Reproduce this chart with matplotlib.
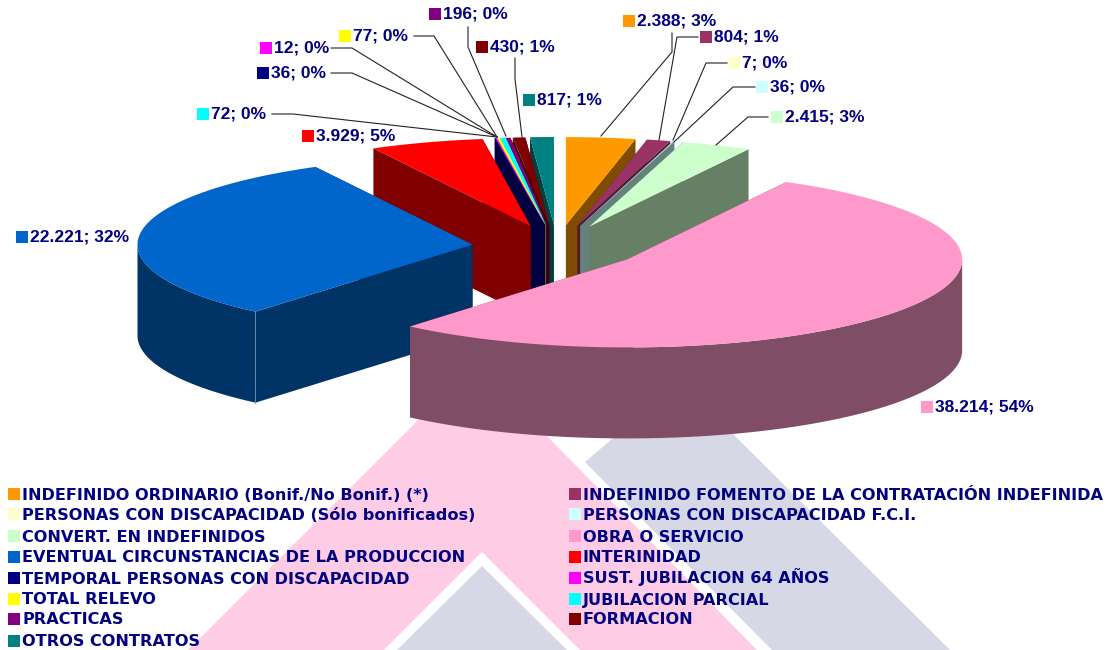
import numpy as np
import matplotlib
matplotlib.use('Agg')
import matplotlib.pyplot as plt
from matplotlib.patches import Polygon, Rectangle

plt.rcParams['font.family'] = ['Liberation Sans', 'DejaVu Sans']
plt.rcParams['font.weight'] = 'bold'

# datos
categorias = ['INDEFINIDO ORDINARIO (Bonif./No Bonif.) (*)',
              'INDEFINIDO FOMENTO DE LA CONTRATACIÓN INDEFINIDA',
              'PERSONAS CON DISCAPACIDAD (Sólo bonificados)',
              'PERSONAS CON DISCAPACIDAD F.C.I.',
              'CONVERT. EN INDEFINIDOS',
              'OBRA O SERVICIO',
              'EVENTUAL CIRCUNSTANCIAS DE LA PRODUCCION',
              'INTERINIDAD',
              'TEMPORAL PERSONAS CON DISCAPACIDAD',
              'SUST. JUBILACION 64 AÑOS',
              'TOTAL RELEVO',
              'JUBILACION PARCIAL',
              'PRACTICAS',
              'FORMACION',
              'OTROS CONTRATOS']
valores = [2388, 804, 7, 36, 2415, 38214, 22221, 3929, 36, 12, 77, 72, 196, 430, 817]
etiquetas = ['2.388; 3%', '804; 1%', '7; 0%', '36; 0%', '2.415; 3%', '38.214; 54%',
             '22.221; 32%', '3.929; 5%', '36; 0%', '12; 0%', '77; 0%', '72; 0%',
             '196; 0%', '430; 1%', '817; 1%']
colores = ['#FF9900', '#993366', '#FFFFCC', '#CCFFFF', '#CCFFCC', '#FF99CC', '#0066CC', '#FF0000',
           '#000080', '#FF00FF', '#FFFF00', '#00FFFF', '#800080', '#800000', '#008080']

# posicion del texto de cada etiqueta (pixeles)
pos_etiquetas = [(637, 21), (714, 37), (742, 63), (770, 87), (785, 117), (935, 407),
                 (30, 237), (316, 136), (271, 73), (274, 48), (353, 36), (211, 114),
                 (443, 14), (490, 47), (537, 100)]
# lineas guia: indice de la porcion -> puntos
guias = {0: [(672, 33), (672, 52), (601, 136)],
         1: [(698, 37), (677, 37), (659, 140)],
         2: [(727, 63), (706, 63), (673, 140)],
         3: [(755, 87), (733, 87), (674, 142)],
         4: [(768, 117), (748, 117), (716, 145)],
         8: [(331, 73), (352, 73), (497, 137)],
         9: [(331, 48), (352, 48), (497, 137)],
         10: [(414, 36), (434, 36), (497, 137)],
         11: [(272, 114), (293, 114), (497, 137)],
         12: [(468, 27), (468, 47), (506, 136)],
         13: [(515, 58), (515, 79), (522, 137)]}
# filas y columnas de la leyenda (pixeles)
filas_y = [494, 514, 536, 557, 578, 599, 619, 641]
cols_x = [8, 569]

# geometria de la torta
cx, cy = 557, 247
rx, ry = 335, 88
expl_x, expl_y = 85, 22
prof = 91
# orden de dibujo del grafico original
orden = [14, 13, 12, 11, 10, 9, 8, 7, 0, 1, 2, 3, 4, 6, 5]
# porciones diminutas de atras: el original las dibuja con un ancho minimo
delgadas = [8, 9, 10, 11]
ancho_min = np.radians(1.0)

fig = plt.figure(figsize=(11.15, 6.5), dpi=100)
ax = fig.add_axes([0, 0, 1, 1])
ax.set_xlim(0, 1115)
ax.set_ylim(650, 0)
ax.axis('off')

# logo de fondo
rosa = '#FFCCE6'
gris = '#D6D8E6'
ax.add_patch(Polygon([(420, 418), (188, 650), (384, 650), (482, 552), (580, 650), (757, 650), (544, 433)],
                     fc=rosa, ec='none', zorder=0))
ax.add_patch(Polygon([(482, 566), (397, 650), (567, 650)], fc=gris, ec='none', zorder=0))
ax.add_patch(Polygon([(585, 462), (772, 650), (950, 650), (732, 433), (619, 433)], fc=gris, ec='none', zorder=0))


def oscurecer(color):
    return tuple(c * 0.5 for c in matplotlib.colors.to_rgb(color))


total = sum(valores)
ang = np.cumsum([0] + valores) / total * 2 * np.pi
medios = (ang[:-1] + ang[1:]) / 2
apex_x = cx + expl_x * np.sin(medios)
apex_y = cy - expl_y * np.cos(medios)


def borde(i):
    a0, a1 = ang[i], ang[i + 1]
    if i in delgadas:
        a0, a1 = medios[i] - ancho_min / 2, medios[i] + ancho_min / 2
    t = np.linspace(a0, a1, 200)
    return t, apex_x[i] + rx * np.sin(t), apex_y[i] - ry * np.cos(t)


def cara_superior(i, z):
    t, xs, ys = borde(i)
    ax.add_patch(Polygon(np.c_[np.r_[apex_x[i], xs], np.r_[apex_y[i], ys]],
                         fc=colores[i], ec='none', zorder=z))


for z, i in enumerate(orden):
    t, xs, ys = borde(i)
    ax0, ay0 = apex_x[i], apex_y[i]
    oscuro = oscurecer(colores[i])
    # paredes radiales
    for xb, yb in [(xs[0], ys[0]), (xs[-1], ys[-1])]:
        ax.add_patch(Polygon([(ax0, ay0), (xb, yb), (xb, yb + prof), (ax0, ay0 + prof)],
                             fc=oscuro, ec='none', zorder=2 + z))
    # pared curva, solo la parte de adelante
    delante = np.cos(t) <= 0
    if delante.sum() > 1:
        fx, fy = xs[delante], ys[delante]
        ax.add_patch(Polygon(np.r_[np.c_[fx, fy], np.c_[fx[::-1], fy[::-1] + prof]],
                             fc=oscuro, ec='none', zorder=2 + z))
    cara_superior(i, 2 + z)
    # arista clara en la esquina de la porcion azul
    if i == 6:
        ax.plot([xs[0], xs[0]], [ys[0], ys[0] + prof], color='#6F8CAB', lw=0.6, zorder=2 + z)

# las diminutas se repasan arriba, la cian queda encima
for k, i in enumerate(delgadas):
    cara_superior(i, 2 + orden.index(8) + 0.1 * (k + 1))

# etiquetas
for i, (x, y) in enumerate(pos_etiquetas):
    ax.text(x, y, etiquetas[i], color='#000080', fontsize=12.5, va='center', ha='left', zorder=50)
    ax.plot([x - 8.5], [y], marker='s', ms=8, color=colores[i], mew=0, zorder=50)
for i, pts in guias.items():
    px, py = zip(*pts)
    ax.plot(px, py, color='#222222', lw=0.8, zorder=49)

# leyenda: dos columnas, se llena por filas
for i, nombre in enumerate(categorias):
    x = cols_x[i % 2]
    y = filas_y[i // 2]
    ax.add_patch(Rectangle((x, y - 6), 12, 12, fc=colores[i], ec='none', zorder=60))
    ax.text(x + 14, y + 5.5, nombre, color='#000080', family='DejaVu Sans', fontsize=11.6,
            va='baseline', ha='left', zorder=60)

fig.savefig('out.png', dpi=100)
